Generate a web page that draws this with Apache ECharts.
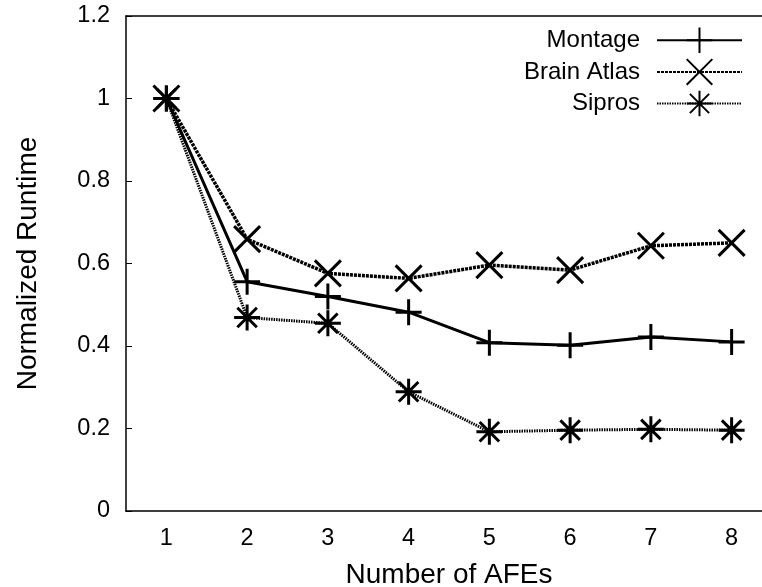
<!DOCTYPE html>
<html>
<head>
<meta charset="utf-8">
<script src="https://cdn.jsdelivr.net/npm/echarts@6/dist/echarts.min.js"></script>
<style>html,body{margin:0;padding:0;background:#fff;}#c{width:762px;height:587px;}</style>
</head>
<body>
<div id="c"></div>
<script>
const categories = ['1','2','3','4','5','6','7','8'];
const montage    = [1.0, 0.556, 0.520, 0.482, 0.408, 0.402, 0.422, 0.410];
const brainAtlas = [1.0, 0.659, 0.576, 0.564, 0.596, 0.584, 0.643, 0.650];
const sipros     = [1.0, 0.469, 0.455, 0.289, 0.192, 0.196, 0.198, 0.196];
const yTicks = [0, 0.2, 0.4, 0.6, 0.8, 1, 1.2];

const PLUS = 'path://M12,0L12,24M0,12L24,12';
const CROSS = 'path://M0,0L24,24M24,0L0,24';
const STAR = 'path://M12,0L12,24M0,12L24,12M3,3L21,21M21,3L3,21';
const FONT = '"Liberation Sans", Arial, sans-serif';

function mk(name, data, sym, lineType, width) {
  return {
    name, type: 'line', data,
    symbol: sym, symbolSize: 26,
    lineStyle: {color: '#000', width: width, type: lineType},
    itemStyle: {color: 'none', borderColor: '#000', borderWidth: 3},
    emphasis: {disabled: true},
    animation: false
  };
}

const chart = echarts.init(document.getElementById('c'), null, {renderer: 'canvas'});
chart.setOption({
  backgroundColor: '#fff',
  animation: false,
  grid: {left: 126, top: 16, width: 646, height: 495, containLabel: false, outerBoundsMode: 'none'},
  legend: {
    right: 14, top: 20, orient: 'vertical', align: 'right',
    itemWidth: 85, itemHeight: 32, itemGap: 1,
    textStyle: {fontFamily: FONT, fontSize: 24, color: '#000', padding: [0, 12, 0, 0]},
    data: ['Montage', 'Brain Atlas', 'Sipros']
  },
  xAxis: [{
    type: 'category', data: categories, boundaryGap: true,
    name: 'Number of AFEs', nameLocation: 'middle', nameGap: 50,
    nameTextStyle: {fontFamily: FONT, fontSize: 28, color: '#000'},
    axisLine: {lineStyle: {color: '#000', width: 1.5}},
    axisTick: {inside: true, length: 6, alignWithLabel: true, lineStyle: {color: '#000'}},
    axisLabel: {fontFamily: FONT, fontSize: 23.5, color: '#000', margin: 16},
    splitLine: {show: false}
  }, {
    type: 'category', data: categories, boundaryGap: true, position: 'top',
    axisLine: {lineStyle: {color: '#000', width: 1.5}},
    axisTick: {inside: true, length: 6, alignWithLabel: true, lineStyle: {color: '#000'}},
    axisLabel: {show: false}, splitLine: {show: false}
  }],
  yAxis: {
    type: 'value', min: yTicks[0], max: yTicks[yTicks.length - 1], interval: 0.2,
    name: 'Normalized Runtime', nameLocation: 'middle', nameGap: 84,
    nameTextStyle: {fontFamily: FONT, fontSize: 28, color: '#000'},
    axisLine: {show: true, lineStyle: {color: '#000', width: 1.5}},
    axisTick: {show: true, inside: true, length: 6, lineStyle: {color: '#000'}},
    axisLabel: {fontFamily: FONT, fontSize: 23.5, color: '#000', margin: 16,
      formatter: v => String(Math.round(v * 10) / 10)},
    splitLine: {show: false}
  },
  series: [
    mk('Sipros', sipros, STAR, [1.5, 1], 3),
    mk('Brain Atlas', brainAtlas, CROSS, [3, 1], 3.5),
    mk('Montage', montage, PLUS, 'solid', 3)
  ]
});
</script>
</body>
</html>
